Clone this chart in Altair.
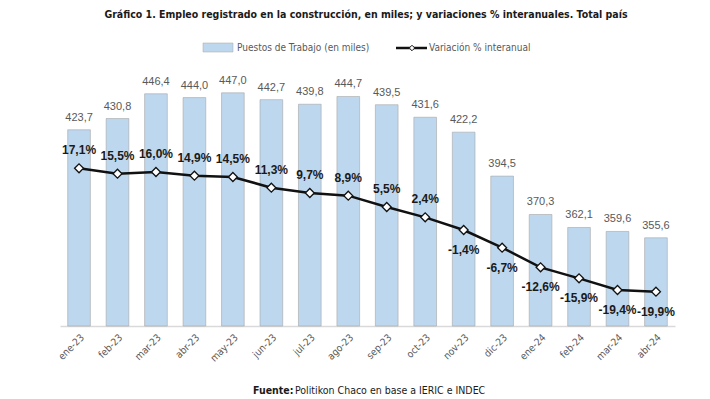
import altair as alt
import pandas as pd

months = ["ene-23", "feb-23", "mar-23", "abr-23", "may-23", "jun-23", "jul-23", "ago-23",
          "sep-23", "oct-23", "nov-23", "dic-23", "ene-24", "feb-24", "mar-24", "abr-24"]
jobs = [423.7, 430.8, 446.4, 444.0, 447.0, 442.7, 439.8, 444.7,
        439.5, 431.6, 422.2, 394.5, 370.3, 362.1, 359.6, 355.6]
var_pct = [17.1, 15.5, 16.0, 14.9, 14.5, 11.3, 9.7, 8.9,
           5.5, 2.4, -1.4, -6.7, -12.6, -15.9, -19.4, -19.9]

df = pd.DataFrame({
    "mes": months,
    "jobs": jobs,
    "var": var_pct,
    "jobs_lbl": [f"{v:.1f}".replace(".", ",") for v in jobs],
    "var_lbl": [f"{v:.1f}%".replace(".", ",") for v in var_pct],
})

COND = "DejaVu Sans Condensed, Liberation Sans Narrow, Liberation Sans, sans-serif"
W, H = 615, 266
x_enc = alt.X("mes:N", sort=months, title=None,
              scale=alt.Scale(paddingInner=0.41, paddingOuter=0.2),
              axis=alt.Axis(labelAngle=-45, labelColor="#595959", labelFontSize=10,
                            labelFont=COND, domainColor="#d9d9d9",
                            domainWidth=1.5, ticks=False, labelPadding=6, grid=False))

ybar = alt.Y("jobs:Q", scale=alt.Scale(domain=[300, 467.7], zero=False, nice=False), axis=None)
yline = alt.Y("var:Q", scale=alt.Scale(domain=[-30.2, 49.6], zero=False, nice=False), axis=None)

base = alt.Chart(df)

bars = base.mark_bar(color="#bdd7ee", stroke="#a6a6a6", strokeWidth=0.6).encode(
    x=x_enc, y=ybar, y2=alt.datum(300))
bar_txt = base.mark_text(dy=-12, fontSize=11, color="#595959", font="Liberation Sans").encode(
    x=x_enc, y=ybar, text="jobs_lbl:N")

line_layer = alt.layer(
    base.mark_line(color="#111111", strokeWidth=2.5).encode(x=x_enc, y=yline),
    base.mark_point(shape="diamond", filled=True, fill="white", stroke="#111111",
                    strokeWidth=1.3, size=80, opacity=1).encode(x=x_enc, y=yline),
    base.transform_filter("datum.var >= 0").mark_text(
        dy=-18, fontSize=12, fontWeight="bold", color="#1a1a1a", font="Liberation Sans").encode(
        x=x_enc, y=yline, text="var_lbl:N"),
    base.transform_filter("datum.var < 0").mark_text(
        dy=20, fontSize=12, fontWeight="bold", color="#1a1a1a", font="Liberation Sans").encode(
        x=x_enc, y=yline, text="var_lbl:N"),
)

one = alt.Chart(pd.DataFrame({"a": [0]}))
title = one.mark_text(fontSize=10.5, fontWeight="bold", font=COND,
                      color="#1a1a1a", align="center", baseline="middle").encode(
    x=alt.value(306), y=alt.value(-45),
    text=alt.value("Gráfico 1. Empleo registrado en la construcción, en miles; y variaciones % interanuales. Total país"))

leg_rect = one.mark_rect(color="#bdd7ee", stroke="#a6a6a6", strokeWidth=0.5).encode(
    x=alt.value(143), x2=alt.value(173), y=alt.value(-17), y2=alt.value(-8))
leg_txt1 = one.mark_text(fontSize=10, color="#595959", font=COND, align="left",
                         baseline="middle").encode(
    x=alt.value(177), y=alt.value(-12), text=alt.value("Puestos de Trabajo (en miles)"))
leg_line = one.mark_rule(color="#111111", strokeWidth=2.5).encode(
    x=alt.value(336), x2=alt.value(367), y=alt.value(-12))
leg_pt = one.mark_point(shape="diamond", filled=True, fill="white", stroke="#111111",
                        strokeWidth=1, size=30, opacity=1).encode(x=alt.value(352), y=alt.value(-12))
leg_txt2 = one.mark_text(fontSize=10, color="#595959", font=COND, align="left",
                         baseline="middle").encode(
    x=alt.value(369), y=alt.value(-12), text=alt.value("Variación % interanual"))

src1 = one.mark_text(fontSize=10.5, fontWeight="bold", font=COND, color="#1a1a1a",
                     align="left", baseline="middle").encode(
    x=alt.value(193), y=alt.value(331), text=alt.value("Fuente:"))
src2 = one.mark_text(fontSize=10.5, font=COND, color="#1a1a1a",
                     align="left", baseline="middle").encode(
    x=alt.value(235), y=alt.value(331), text=alt.value("Politikon Chaco en base a IERIC e INDEC"))

main = alt.layer(bars, bar_txt, line_layer).resolve_scale(y="independent")

chart = alt.layer(main, title, leg_rect, leg_txt1, leg_line, leg_pt, leg_txt2, src1, src2).properties(
    width=W, height=H,
    autosize=alt.AutoSizeParams(type="none"),
    padding={"left": 52, "top": 52, "right": 20, "bottom": 75},
).configure(background="white", view=alt.ViewConfig(stroke=None))

chart.save("out.html", embed_options={"renderer": "svg", "actions": False})
